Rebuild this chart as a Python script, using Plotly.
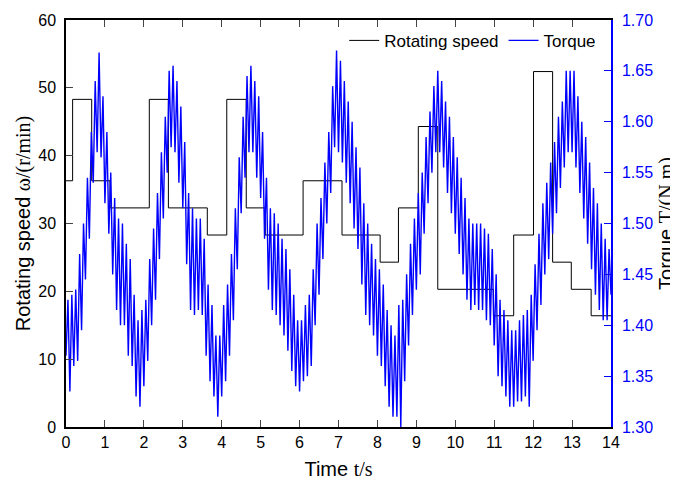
import numpy as np
import plotly.graph_objects as go

# Rotating speed: step changes (time of each change, level held afterwards)
speed_step_times = [0.0, 0.17, 0.66, 1.13, 2.14, 2.63, 3.63, 4.13, 4.63, 5.12, 6.09,
                    7.09, 8.07, 8.54, 9.05, 9.55, 10.98, 11.50, 12.01, 12.50, 12.98, 13.49, 14.0]
speed_levels = [36.3, 48.3, 36.3, 32.3, 48.3, 32.3, 28.3, 48.3, 32.3, 28.3, 36.3,
                28.3, 24.3, 32.3, 44.3, 20.3, 16.4, 28.3, 52.4, 24.3, 20.3, 16.4]

# Torque samples, one every 0.05 s from 0 to 14 s
torque_sample_step = 0.05
torque_values = [
    # 0.00 - 0.95
    1.37, 1.425, 1.335, 1.43, 1.36, 1.435, 1.365, 1.47, 1.395, 1.50,
    1.445, 1.545, 1.485, 1.59, 1.54, 1.64, 1.57, 1.668, 1.565, 1.625,
    # 1.00 - 1.95
    1.52, 1.59, 1.49, 1.55, 1.45, 1.525, 1.415, 1.505, 1.40, 1.50,
    1.40, 1.48, 1.37, 1.465, 1.36, 1.43, 1.33, 1.405, 1.32, 1.415,
    # 2.00 - 2.95
    1.34, 1.425, 1.365, 1.465, 1.40, 1.495, 1.425, 1.53, 1.465, 1.57,
    1.505, 1.605, 1.55, 1.65, 1.575, 1.655, 1.57, 1.64, 1.54, 1.615,
    # 3.00 - 3.95
    1.515, 1.58, 1.46, 1.53, 1.415, 1.515, 1.41, 1.505, 1.415, 1.505,
    1.41, 1.485, 1.37, 1.44, 1.345, 1.42, 1.33, 1.39, 1.31, 1.39,
    # 4.00 - 4.95
    1.33, 1.42, 1.345, 1.44, 1.37, 1.47, 1.405, 1.515, 1.455, 1.565,
    1.51, 1.605, 1.545, 1.645, 1.57, 1.655, 1.57, 1.64, 1.545, 1.625,
    # 5.00 - 5.95
    1.525, 1.59, 1.485, 1.545, 1.435, 1.515, 1.415, 1.51, 1.41, 1.50,
    1.40, 1.485, 1.39, 1.475, 1.375, 1.455, 1.355, 1.43, 1.34, 1.405,
    # 6.00 - 6.95
    1.335, 1.405, 1.345, 1.42, 1.35, 1.43, 1.36, 1.455, 1.40, 1.50,
    1.43, 1.525, 1.465, 1.56, 1.50, 1.59, 1.53, 1.635, 1.575, 1.67,
    # 7.00 - 7.95
    1.57, 1.66, 1.56, 1.64, 1.54, 1.62, 1.52, 1.60, 1.495, 1.575,
    1.475, 1.555, 1.44, 1.52, 1.41, 1.50, 1.40, 1.48, 1.39, 1.465,
    # 8.00 - 8.95
    1.37, 1.455, 1.36, 1.44, 1.34, 1.415, 1.32, 1.40, 1.31, 1.39,
    1.31, 1.42, 1.30, 1.425, 1.345, 1.45, 1.38, 1.48, 1.41, 1.505,
    # 9.00 - 9.95
    1.435, 1.53, 1.45, 1.55, 1.49, 1.585, 1.52, 1.61, 1.55, 1.635,
    1.57, 1.65, 1.57, 1.64, 1.555, 1.62, 1.53, 1.605, 1.51, 1.585,
    # 10.00 - 10.95
    1.49, 1.565, 1.47, 1.545, 1.45, 1.525, 1.425, 1.505, 1.415, 1.50,
    1.42, 1.50, 1.415, 1.50, 1.415, 1.495, 1.405, 1.49, 1.40, 1.475,
    # 11.00 - 11.95
    1.38, 1.45, 1.35, 1.425, 1.34, 1.415, 1.33, 1.405, 1.32, 1.395,
    1.32, 1.395, 1.325, 1.405, 1.325, 1.41, 1.33, 1.415, 1.32, 1.43,
    # 12.00 - 12.95
    1.365, 1.46, 1.395, 1.49, 1.42, 1.52, 1.45, 1.54, 1.465, 1.56,
    1.49, 1.58, 1.51, 1.605, 1.535, 1.62, 1.555, 1.65, 1.57, 1.65,
    # 13.00 - 14.00
    1.57, 1.65, 1.555, 1.625, 1.53, 1.60, 1.505, 1.585, 1.48, 1.56,
    1.455, 1.535, 1.43, 1.52, 1.415, 1.50, 1.405, 1.485, 1.405, 1.475,
    1.43,
]

x_ticks = list(range(0, 15))
speed_ticks = [0, 10, 20, 30, 40, 50, 60]
torque_ticks = [1.30, 1.35, 1.40, 1.45, 1.50, 1.55, 1.60, 1.65, 1.70]

torque_time = np.round(np.arange(len(torque_values)) * torque_sample_step, 2)
speed_y = speed_levels + [speed_levels[-1]]

BLUE = "#0000FF"
SANS = "Liberation Sans, Arial, sans-serif"

fig = go.Figure()
fig.add_trace(go.Scatter(
    x=speed_step_times, y=speed_y, mode="lines", line_shape="hv",
    line=dict(color="black", width=1), name="Rotating speed", yaxis="y"))
fig.add_trace(go.Scatter(
    x=torque_time, y=torque_values, mode="lines",
    line=dict(color=BLUE, width=1.4), name="Torque", yaxis="y2"))

# The page body has an 8 px margin, so the figure is sized to fit the window.
fig.update_layout(
    width=670, height=472,
    margin=dict(l=58, r=67, t=12, b=53),
    paper_bgcolor="white", plot_bgcolor="white",
    font=dict(family=SANS, size=16, color="black"),
    showlegend=True,
    legend=dict(orientation="h", x=0.982, xanchor="right", y=0.993, yanchor="top",
                bgcolor="rgba(0,0,0,0)", font=dict(size=17), itemwidth=30,
                tracegroupgap=0),
    xaxis=dict(range=[0, 14], tickvals=x_ticks, ticks="inside", ticklen=7,
               showline=True, linecolor="black", linewidth=1.5, mirror="ticks",
               showgrid=False, zeroline=False, tickfont=dict(size=16),
               automargin=False,
               title=dict(text='Time <span style="font-family:Liberation Serif">t/s</span>',
                          font=dict(size=20), standoff=22)),
    yaxis=dict(range=[0, 60], tickvals=speed_ticks, ticks="inside", ticklen=7,
               showline=True, linecolor="black", linewidth=1.5,
               showgrid=False, zeroline=False, tickfont=dict(size=16),
               ticklabelstandoff=5, automargin=False,
               title=dict(text='Rotating speed <span style="font-family:Liberation Serif">ω/(r/min)</span>',
                          font=dict(size=20), standoff=2)),
    yaxis2=dict(range=[1.30, 1.70], tickvals=torque_ticks, tickformat=".2f",
                overlaying="y", side="right", ticks="inside", ticklen=7,
                showline=True, linecolor=BLUE, linewidth=1.5, tickcolor=BLUE,
                tickfont=dict(size=16, color=BLUE), ticklabelstandoff=6,
                showgrid=False, zeroline=False, automargin=False,
                title=dict(text='Torque <span style="font-family:Liberation Serif">T/(N.m)</span>',
                           font=dict(size=20, color="black"), standoff=16)),
)

fig.write_html("out.html")
